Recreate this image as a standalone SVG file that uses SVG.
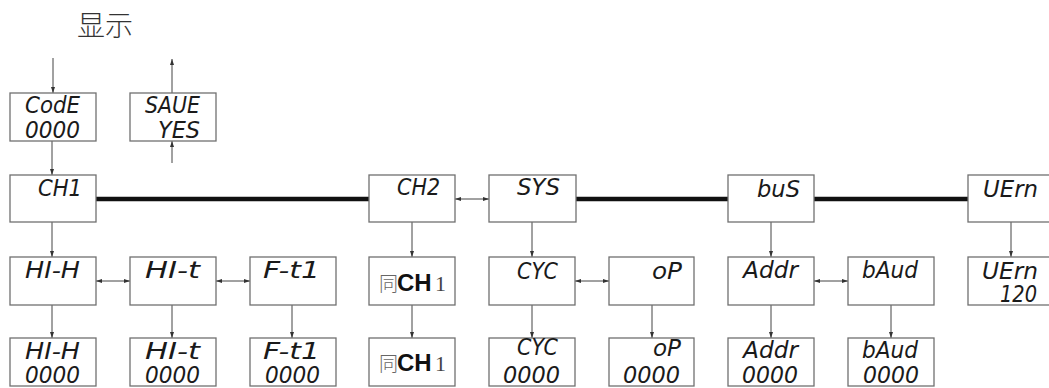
<svg xmlns="http://www.w3.org/2000/svg" width="1049" height="388" viewBox="0 0 1049 388">
<style>
.box{fill:#fff;stroke:#707070;stroke-width:1.3}
.seg{font-family:"DejaVu Sans","Liberation Sans",sans-serif;font-style:italic;font-weight:200;fill:#1a1a1a;font-size:23px}
.ln{stroke:#444;stroke-width:1;fill:none}
.thick{stroke:#111;stroke-width:4.5;stroke-linecap:round;fill:none}
.cj{font-family:"Noto Sans CJK SC",sans-serif;font-size:19px;font-weight:300;fill:#666}
.chb{font-family:"Liberation Sans",sans-serif;font-weight:bold;font-size:24px;fill:#111}
.one{font-family:"Liberation Serif",serif;font-size:22px;fill:#444}
</style>
<defs>
<marker id="ah" markerWidth="6" markerHeight="4" refX="6" refY="2" orient="auto-start-reverse" markerUnits="userSpaceOnUse">
<path d="M0,0 L6,2 L0,4 z" fill="#333"/>
</marker>
</defs>
<text x="77" y="36" font-family="'Noto Sans CJK SC',sans-serif" font-size="28" font-weight="300" fill="#333">显示</text>

<g id="connectors">
<line class="ln" x1="53" y1="58" x2="53" y2="93" marker-end="url(#ah)"/>
<line class="ln" x1="172" y1="93" x2="172" y2="59" marker-end="url(#ah)"/>
<line class="ln" x1="172" y1="163" x2="172" y2="141" marker-end="url(#ah)"/>
<line class="ln" x1="52" y1="141" x2="52" y2="175" marker-end="url(#ah)"/>
<line class="thick" x1="96" y1="199" x2="369" y2="199"/>
<line class="thick" x1="576" y1="199" x2="728" y2="199"/>
<line class="thick" x1="814" y1="199" x2="968" y2="199"/>
<line class="ln" x1="455" y1="199" x2="489" y2="199" marker-start="url(#ah)" marker-end="url(#ah)"/>
<line class="ln" x1="52" y1="222" x2="52" y2="257" marker-end="url(#ah)"/>
<line class="ln" x1="412" y1="222" x2="412" y2="257" marker-end="url(#ah)"/>
<line class="ln" x1="532" y1="222" x2="532" y2="257" marker-end="url(#ah)"/>
<line class="ln" x1="771" y1="222" x2="771" y2="257" marker-end="url(#ah)"/>
<line class="ln" x1="1011" y1="222" x2="1011" y2="257" marker-end="url(#ah)"/>
<line class="ln" x1="96" y1="281" x2="130" y2="281" marker-start="url(#ah)" marker-end="url(#ah)"/>
<line class="ln" x1="216" y1="281" x2="250" y2="281" marker-start="url(#ah)" marker-end="url(#ah)"/>
<line class="ln" x1="575" y1="281" x2="609" y2="281" marker-start="url(#ah)" marker-end="url(#ah)"/>
<line class="ln" x1="814" y1="281" x2="848" y2="281" marker-start="url(#ah)" marker-end="url(#ah)"/>
<line class="ln" x1="52" y1="305" x2="52" y2="338" marker-end="url(#ah)"/>
<line class="ln" x1="172" y1="305" x2="172" y2="338" marker-end="url(#ah)"/>
<line class="ln" x1="292" y1="305" x2="292" y2="338" marker-end="url(#ah)"/>
<line class="ln" x1="412" y1="305" x2="412" y2="338" marker-end="url(#ah)"/>
<line class="ln" x1="532" y1="305" x2="532" y2="338" marker-end="url(#ah)"/>
<line class="ln" x1="652" y1="305" x2="652" y2="338" marker-end="url(#ah)"/>
<line class="ln" x1="771" y1="305" x2="771" y2="338" marker-end="url(#ah)"/>
<line class="ln" x1="891" y1="305" x2="891" y2="338" marker-end="url(#ah)"/>
</g>

<g id="code">
<rect class="box" x="10" y="93" width="86" height="48"/>
<text class="seg" x="25" y="113" font-size="23" textLength="55" lengthAdjust="spacingAndGlyphs">CodE</text>
<text class="seg" x="25" y="138" font-size="25" textLength="55" lengthAdjust="spacingAndGlyphs">0000</text>
</g>
<g id="save">
<rect class="box" x="130" y="93" width="86" height="48"/>
<text class="seg" x="145" y="113" font-size="23" textLength="55" lengthAdjust="spacingAndGlyphs">SAUE</text>
<text class="seg" x="158" y="138" font-size="25" textLength="42" lengthAdjust="spacingAndGlyphs">YES</text>
</g>

<g id="ch1">
<rect class="box" x="10" y="175" width="86" height="47"/>
<text class="seg" x="38" y="196" textLength="44" lengthAdjust="spacingAndGlyphs">CH1</text>
</g>
<g id="ch2">
<rect class="box" x="369" y="175" width="86" height="47"/>
<text class="seg" x="397" y="195" textLength="43" lengthAdjust="spacingAndGlyphs">CH2</text>
</g>
<g id="sys">
<rect class="box" x="489" y="175" width="87" height="47"/>
<text class="seg" x="517" y="195" textLength="43" lengthAdjust="spacingAndGlyphs">SYS</text>
</g>
<g id="bus">
<rect class="box" x="728" y="175" width="86" height="47"/>
<text class="seg" x="757" y="197" textLength="43" lengthAdjust="spacingAndGlyphs">buS</text>
</g>
<g id="vern">
<rect class="box" x="968" y="175" width="86" height="47"/>
<text class="seg" x="983" y="197" textLength="55" lengthAdjust="spacingAndGlyphs">UErn</text>
</g>

<g id="hih">
<rect class="box" x="10" y="257" width="86" height="48"/>
<text class="seg" x="25" y="278" textLength="55" lengthAdjust="spacingAndGlyphs">HI-H</text>
</g>
<g id="hit">
<rect class="box" x="130" y="257" width="86" height="48"/>
<text class="seg" x="145" y="278" textLength="55" lengthAdjust="spacingAndGlyphs">HI-t</text>
</g>
<g id="ft1">
<rect class="box" x="250" y="257" width="86" height="48"/>
<text class="seg" x="263" y="278" textLength="57" lengthAdjust="spacingAndGlyphs">F-t1</text>
</g>
<g id="same1">
<rect class="box" x="369" y="257" width="86" height="48"/>
<text y="291"><tspan class="cj" x="379">同</tspan><tspan class="chb" x="397">CH</tspan><tspan class="one" x="435">1</tspan></text>
</g>
<g id="cyc">
<rect class="box" x="489" y="257" width="86" height="48"/>
<text class="seg" x="517" y="279" textLength="41" lengthAdjust="spacingAndGlyphs">CYC</text>
</g>
<g id="op">
<rect class="box" x="609" y="257" width="85" height="48"/>
<text class="seg" x="652" y="279" textLength="30" lengthAdjust="spacingAndGlyphs">oP</text>
</g>
<g id="addr">
<rect class="box" x="728" y="257" width="86" height="48"/>
<text class="seg" x="743" y="278" textLength="55" lengthAdjust="spacingAndGlyphs">Addr</text>
</g>
<g id="baud">
<rect class="box" x="848" y="257" width="86" height="48"/>
<text class="seg" x="862" y="278" textLength="56" lengthAdjust="spacingAndGlyphs">bAud</text>
</g>
<g id="vern2">
<rect class="box" x="968" y="257" width="86" height="48"/>
<text class="seg" x="982" y="279" font-size="21" textLength="56" lengthAdjust="spacingAndGlyphs">UErn</text>
<text class="seg" x="1000" y="302" font-size="23" textLength="37" lengthAdjust="spacingAndGlyphs">120</text>
</g>

<g id="hih-val">
<rect class="box" x="10" y="338" width="86" height="48"/>
<text class="seg" x="25" y="359" font-size="21" textLength="55" lengthAdjust="spacingAndGlyphs">HI-H</text>
<text class="seg" x="25" y="383" font-size="24" textLength="55" lengthAdjust="spacingAndGlyphs">0000</text>
</g>
<g id="hit-val">
<rect class="box" x="130" y="338" width="86" height="48"/>
<text class="seg" x="145" y="359" font-size="21" textLength="55" lengthAdjust="spacingAndGlyphs">HI-t</text>
<text class="seg" x="145" y="383" font-size="24" textLength="55" lengthAdjust="spacingAndGlyphs">0000</text>
</g>
<g id="ft1-val">
<rect class="box" x="250" y="338" width="86" height="48"/>
<text class="seg" x="263" y="359" font-size="21" textLength="57" lengthAdjust="spacingAndGlyphs">F-t1</text>
<text class="seg" x="265" y="383" font-size="24" textLength="55" lengthAdjust="spacingAndGlyphs">0000</text>
</g>
<g id="same2">
<rect class="box" x="369" y="338" width="86" height="48"/>
<text y="371"><tspan class="cj" x="379">同</tspan><tspan class="chb" x="397">CH</tspan><tspan class="one" x="435">1</tspan></text>
</g>
<g id="cyc-val">
<rect class="box" x="489" y="338" width="86" height="48"/>
<text class="seg" x="517" y="355" font-size="21" textLength="41" lengthAdjust="spacingAndGlyphs">CYC</text>
<text class="seg" x="503" y="383" font-size="24" textLength="57" lengthAdjust="spacingAndGlyphs">0000</text>
</g>
<g id="op-val">
<rect class="box" x="609" y="338" width="85" height="48"/>
<text class="seg" x="653" y="356" font-size="21" textLength="28" lengthAdjust="spacingAndGlyphs">oP</text>
<text class="seg" x="623" y="383" font-size="24" textLength="57" lengthAdjust="spacingAndGlyphs">0000</text>
</g>
<g id="addr-val">
<rect class="box" x="728" y="338" width="86" height="48"/>
<text class="seg" x="743" y="358" font-size="21" textLength="55" lengthAdjust="spacingAndGlyphs">Addr</text>
<text class="seg" x="742" y="383" font-size="24" textLength="56" lengthAdjust="spacingAndGlyphs">0000</text>
</g>
<g id="baud-val">
<rect class="box" x="848" y="338" width="86" height="48"/>
<text class="seg" x="862" y="358" font-size="21" textLength="56" lengthAdjust="spacingAndGlyphs">bAud</text>
<text class="seg" x="863" y="383" font-size="24" textLength="56" lengthAdjust="spacingAndGlyphs">0000</text>
</g>
</svg>
